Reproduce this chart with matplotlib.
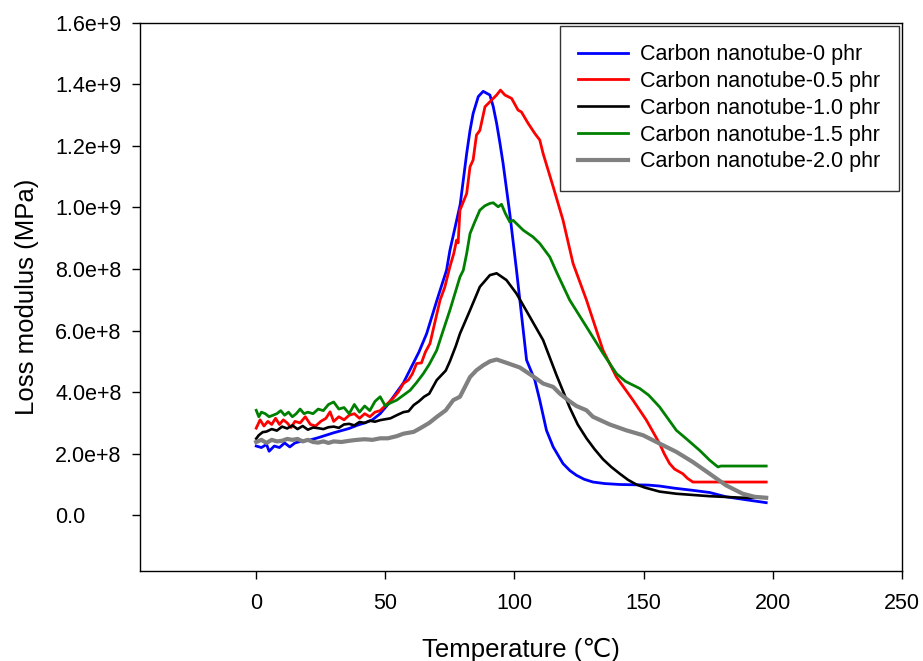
import matplotlib
matplotlib.use("Agg")
import matplotlib.pyplot as plt
from matplotlib.ticker import FixedLocator, FuncFormatter

plt.rcParams['font.family'] = ['Liberation Sans', 'DejaVu Sans']

labels = ["Carbon nanotube-0 phr", "Carbon nanotube-0.5 phr", "Carbon nanotube-1.0 phr",
          "Carbon nanotube-1.5 phr", "Carbon nanotube-2.0 phr"]

# 0 phr
t0 = [0, 2, 4, 5, 7, 9, 11, 13, 15, 18, 21, 24, 27, 30, 33, 36, 39, 42, 45, 48, 51, 54, 57, 60,
      63, 66, 70, 73.7, 75, 79, 81.5, 82.8, 84, 86, 87.9, 90.5, 91.8, 93.1, 94.4, 95.6, 98.2, 100.8,
      104.7, 107.9, 109.8, 112.4, 115, 118.8, 121.5, 124, 127, 130.4, 135, 140.8, 147.2, 152,
      156.2, 162, 169.1, 175.6, 182, 190, 197.5]
v0 = [2.25, 2.2, 2.3, 2.08, 2.25, 2.2, 2.35, 2.22, 2.35, 2.42, 2.45, 2.52, 2.6, 2.68, 2.75, 2.82,
      2.92, 3.0, 3.1, 3.3, 3.6, 3.95, 4.3, 4.8, 5.3, 5.9, 6.99, 7.96, 8.6, 10.1, 11.75, 12.5, 13.05,
      13.6, 13.77, 13.65, 13.27, 12.73, 12.08, 11.43, 9.8, 7.96, 5.04, 4.39, 3.74, 2.76, 2.22, 1.68,
      1.45, 1.3, 1.17, 1.08, 1.03, 1.0, 0.99, 0.98, 0.95, 0.88, 0.81, 0.74, 0.6, 0.5, 0.41]

# 0.5 phr
t05 = [0, 1.5, 3, 4.5, 6, 7.5, 9, 10.5, 12, 13.5, 15, 17, 19, 21, 23, 25, 27, 28.6, 30, 32, 34, 36,
       38, 40, 42, 44, 46, 48, 50.5, 53, 55, 57, 59, 60.5, 62.1, 64, 65.5, 67.3, 69, 71.2, 73, 75,
       76.5, 77.6, 78.2, 78.9, 81.5, 82.8, 84, 85.3, 86.6, 88.6, 90.5, 93.1, 94.6, 96.3, 98.9, 101.4,
       102.7, 105.3, 107.9, 109.8, 111.1, 115, 118.8, 122.7, 127.9, 134.3, 139.5, 145.9, 151.1,
       156.2, 158, 160.1, 162, 165.2, 167, 169.1, 180, 197.5]
v05 = [2.83, 3.1, 2.9, 3.05, 2.95, 3.15, 2.95, 3.1, 3.0, 2.85, 3.05, 3.0, 3.2, 2.95, 2.9, 3.05,
       3.15, 3.36, 3.05, 3.2, 3.1, 3.25, 3.3, 3.15, 3.3, 3.2, 3.35, 3.4, 3.6, 3.8, 4.0, 4.28, 4.4,
       4.6, 4.93, 4.95, 5.3, 5.58, 6.2, 6.99, 7.4, 8.07, 8.5, 8.94, 8.85, 9.91, 10.45, 11.32, 11.54,
       12.35, 12.5, 13.27, 13.43, 13.65, 13.81, 13.65, 13.54, 13.16, 13.1, 12.73, 12.4, 12.19,
       11.75, 10.67, 9.59, 8.18, 6.99, 5.36, 4.49, 3.74, 3.09, 2.33, 2.0, 1.68, 1.5, 1.35, 1.2,
       1.08, 1.08, 1.08]

# 1.0 phr
t10 = [0, 1, 2.5, 4, 6, 8, 10, 12, 14, 16, 18, 20, 22, 24, 26, 28, 30, 32, 34, 36, 38, 40, 42, 44,
       46, 48, 50, 52, 54.4, 57, 59, 61, 63, 65, 67, 69.9, 73.4, 75, 77.3, 78.9, 82.8, 86.6, 90.5,
       93.1, 96.9, 100.8, 106, 111.1, 116.3, 121.4, 124.5, 127.9, 131, 134.3, 137.5, 140.8, 144,
       147.2, 150.5, 156.2, 162.7, 175.6, 188.4, 197.5]
v10 = [2.49, 2.6, 2.7, 2.72, 2.8, 2.75, 2.88, 2.82, 2.92, 2.8, 2.9, 2.78, 2.85, 2.83, 2.8, 2.86,
       2.88, 2.84, 2.95, 2.97, 2.92, 3.03, 3.0, 3.07, 3.04, 3.09, 3.12, 3.15, 3.25, 3.35, 3.38, 3.58,
       3.7, 3.85, 3.95, 4.39, 4.7, 5.0, 5.5, 5.9, 6.66, 7.42, 7.8, 7.86, 7.64, 7.2, 6.44, 5.69, 4.55,
       3.5, 2.95, 2.5, 2.15, 1.82, 1.57, 1.35, 1.15, 1.0, 0.9, 0.77, 0.7, 0.62, 0.57, 0.57]

# 1.5 phr
t15 = [0, 1, 2, 3.5, 5, 6.5, 8, 9.5, 11, 12.5, 14, 15.5, 17, 18.5, 20, 22, 24, 26, 28, 30, 32, 34,
       36, 38, 40, 42, 44, 46, 48, 50, 52, 54.4, 57, 59.6, 62, 64.7, 67, 69.9, 72, 75, 78.9, 80.2,
       81.5, 82.8, 84.5, 86.6, 88.5, 90.5, 91.8, 93.7, 95, 96.5, 98.2, 99.5, 103.4, 107.2, 109.8,
       113.7, 116.3, 121.4, 127.9, 134.3, 139.5, 143, 148.5, 152, 156.2, 162.7, 166.5, 171.7,
       175.6, 178.8, 180, 197.5]
v15 = [3.41, 3.2, 3.35, 3.3, 3.2, 3.25, 3.3, 3.4, 3.25, 3.35, 3.2, 3.3, 3.45, 3.3, 3.35, 3.3,
       3.45, 3.4, 3.6, 3.68, 3.45, 3.5, 3.3, 3.6, 3.35, 3.55, 3.4, 3.7, 3.85, 3.55, 3.65, 3.74, 3.9,
       4.06, 4.3, 4.6, 4.9, 5.36, 5.9, 6.66, 7.74, 7.96, 8.5, 9.15, 9.5, 9.91, 10.05, 10.13, 10.15,
       10.02, 10.1, 9.8, 9.53, 9.58, 9.26, 9.04, 8.83, 8.39, 7.9, 6.99, 6.12, 5.26, 4.6, 4.35, 4.12,
       3.9, 3.52, 2.76, 2.49, 2.11, 1.79, 1.57, 1.6, 1.6]

# 2.0 phr
t20 = [0, 2, 4, 6, 8, 10, 12, 14, 16, 18, 20, 22, 24, 26, 28, 30, 33, 36, 39, 42, 45, 48, 51, 54.4,
       57, 61, 64, 67, 70, 73.4, 76.3, 78.9, 82.8, 85.3, 87.9, 90.5, 93.1, 97, 102.1, 108.5, 111.1,
       115, 117.6, 121.4, 124, 127.9, 130.4, 136.9, 143.3, 149.8, 156.2, 162.7, 169.1, 175.6, 182,
       188.4, 193, 197.5]
v20 = [2.38, 2.45, 2.35, 2.45, 2.4, 2.42, 2.48, 2.45, 2.48, 2.4, 2.45, 2.38, 2.36, 2.4, 2.35, 2.4,
       2.38, 2.42, 2.45, 2.47, 2.45, 2.5, 2.5, 2.57, 2.65, 2.71, 2.85, 3.0, 3.2, 3.41, 3.74, 3.85,
       4.49, 4.71, 4.87, 5.0, 5.06, 4.95, 4.8, 4.44, 4.28, 4.17, 3.95, 3.7, 3.55, 3.41, 3.2, 2.95,
       2.76, 2.6, 2.33, 2.06, 1.73, 1.35, 0.97, 0.7, 0.6, 0.57]

xticks = [0, 50, 100, 150, 200, 250]
yticks = [0.0, 2e8, 4e8, 6e8, 8e8, 1.0e9, 1.2e9, 1.4e9, 1.6e9]

series = [(t0, v0, 'blue', 2.0), (t05, v05, 'red', 2.0), (t10, v10, 'black', 1.9),
          (t15, v15, 'green', 2.0), (t20, v20, 'gray', 3.0)]

fig = plt.figure(figsize=(9.23, 6.61), dpi=100)
ax = fig.add_axes([0.1517, 0.1366, 0.977 - 0.1517, 0.9657 - 0.1366])

for (t, v, c, lw), lab in zip(series, labels):
    ax.plot(t, [x * 1e8 for x in v], color=c, lw=lw, label=lab)

ax.set_xlim(-45, 250)
ax.set_ylim(-1.8e8, 1.6e9)
ax.xaxis.set_major_locator(FixedLocator(xticks))
ax.yaxis.set_major_locator(FixedLocator(yticks))


def yfmt(v, pos):
    if v == 0:
        return "0.0"
    s = "%.1e" % v
    m, e = s.split("e")
    return "%se%s%d" % (m, "+" if int(e) >= 0 else "-", abs(int(e)))


ax.yaxis.set_major_formatter(FuncFormatter(yfmt))
ax.tick_params(axis='both', direction='out', length=5.5, width=1, labelsize=15.5,
               top=False, right=False)
ax.tick_params(axis='x', pad=10.5)
ax.tick_params(axis='y', pad=55.5)
for lbl in ax.get_yticklabels():
    lbl.set_horizontalalignment('left')

for sp in ax.spines.values():
    sp.set_linewidth(1.0)

ax.set_xlabel("Temperature (℃)", fontsize=18.5, labelpad=17)
ax.set_ylabel("Loss modulus (MPa)", fontsize=18.5, labelpad=12)

leg = ax.legend(loc='upper right', fontsize=15.5, frameon=True, fancybox=False,
                edgecolor='black', borderaxespad=0.15, handlelength=2.3,
                handletextpad=0.58, labelspacing=0.27, borderpad=0.85)
leg.get_frame().set_linewidth(1.0)

fig.savefig("out.png", dpi=100)
